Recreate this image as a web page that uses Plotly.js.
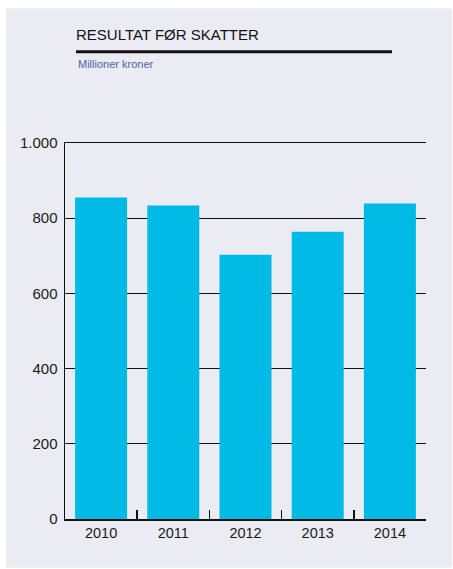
<!DOCTYPE html>
<html>
<head>
<meta charset="utf-8">
<script src="https://cdn.plot.ly/plotly-3.0.1.min.js"></script>
<style>html,body{margin:0;padding:0;background:#fff;}#chart{width:453px;height:569px;}</style>
</head>
<body>
<div id="chart"></div>
<script>
const years = ['2010', '2011', '2012', '2013', '2014'];
const resultat = [855, 834, 703, 764, 839];
const yTicks = [0, 200, 400, 600, 800, 1000];
const titleText = 'RESULTAT FØR SKATTER';
const subtitleText = 'Millioner kroner';

const FONT = 'Liberation Sans, Arial, sans-serif';
const panel = '#EBEBF3';

const trace = {
  type: 'bar',
  x: years,
  y: resultat,
  marker: {color: '#00BAE6', line: {width: 0}},
  hoverinfo: 'x+y'
};

const layout = {
  width: 453, height: 569,
  margin: {l: 65, r: 27, t: 143, b: 50, pad: 0},
  paper_bgcolor: '#ffffff',
  plot_bgcolor: 'rgba(0,0,0,0)',
  separators: ',.',
  bargap: 0.28,
  showlegend: false,
  font: {family: FONT, size: 15, color: '#1a1a1a'},
  title: {
    text: titleText,
    font: {family: FONT, size: 15, color: '#111'},
    xref: 'container', yref: 'container',
    x: 76/453, xanchor: 'left',
    y: 1 - 35/569, yanchor: 'middle'
  },
  xaxis: {
    type: 'category',
    showline: true, linecolor: '#111', linewidth: 1.5, mirror: true,
    ticks: 'inside', tickson: 'boundaries', ticklen: 9, tickwidth: 1.5, tickcolor: '#111',
    showgrid: false, zeroline: false,
    tickfont: {family: FONT, size: 14.5, color: '#1a1a1a'},
    fixedrange: true
  },
  yaxis: {
    range: [0, 1000],
    tickvals: yTicks,
    separatethousands: true,
    showline: true, linecolor: '#111', linewidth: 1.5,
    showgrid: true, gridcolor: '#111', gridwidth: 1.3,
    zeroline: false,
    ticks: '', ticklabelstandoff: 3,
    tickfont: {family: FONT, size: 15, color: '#1a1a1a'},
    fixedrange: true
  },
  shapes: [
    {type: 'rect', xref: 'paper', yref: 'paper', layer: 'below',
     x0: (6-65)/361, x1: (452-65)/361, y0: (518.7-567)/375.4, y1: (518.7-9)/375.4,
     fillcolor: panel, line: {width: 0}},
    {type: 'line', xref: 'paper', yref: 'paper',
     x0: (76-65)/361, x1: (392-65)/361, y0: (518.7-52.3)/375.4, y1: (518.7-52.3)/375.4,
     line: {color: '#111', width: 3}}
  ],
  annotations: [
    {text: subtitleText, xref: 'paper', yref: 'paper', showarrow: false,
     x: (76-65)/361, xanchor: 'left', y: (518.7-64)/375.4, yanchor: 'middle',
     font: {family: FONT, size: 11, color: '#4B64A5'}}
  ]
};

Plotly.newPlot('chart', [trace], layout, {displayModeBar: false, staticPlot: true});
</script>
</body>
</html>
